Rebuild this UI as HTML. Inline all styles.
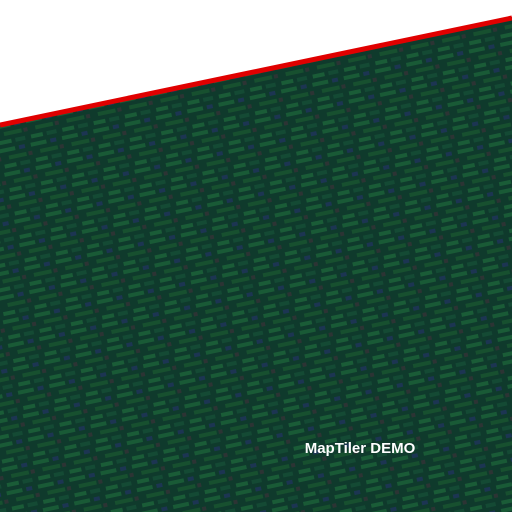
<!DOCTYPE html>
<html><head><meta charset="utf-8"><style>
html,body{margin:0;padding:0;background:#fff;width:512px;height:512px;overflow:hidden}
</style></head><body>
<svg width="512" height="512" viewBox="0 0 512 512">
<defs>
<pattern id="tex" width="32" height="24" patternUnits="userSpaceOnUse" patternTransform="rotate(-12)">
<rect width="32" height="24" fill="#0f3a2c"/>
<rect x="0" y="2" width="16" height="4" fill="#195a36"/>
<rect x="20" y="2" width="6" height="4" fill="#1c3552"/>
<rect x="8" y="10" width="18" height="4" fill="#17502f"/>
<rect x="28" y="10" width="4" height="4" fill="#2c3434"/>
<rect x="2" y="18" width="12" height="4" fill="#1a5c37"/>
<rect x="18" y="18" width="10" height="4" fill="#144a34"/>
</pattern>
</defs>
<polygon points="0,125 512,17 512,512 0,512" fill="url(#tex)"/>
<line x1="0" y1="125" x2="512" y2="18" stroke="#e00000" stroke-width="5"/>
<text x="360" y="453" text-anchor="middle" font-family="Liberation Sans, sans-serif" font-weight="bold" font-size="15" fill="#fff">MapTiler DEMO</text>
</svg>
</body></html>
